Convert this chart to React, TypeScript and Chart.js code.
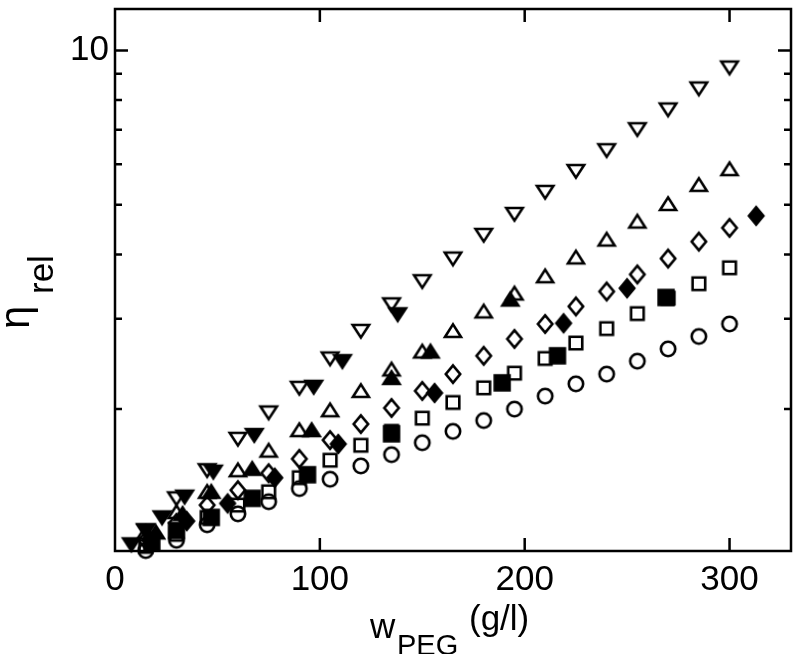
import React, { useEffect, useRef } from 'react';
import { Chart, registerables } from 'chart.js';

Chart.register(...registerables);

const FONT = '"Liberation Sans", Arial, Helvetica, sans-serif';

// ---- data (w_PEG in g/l, eta_rel) ----
const xOpen = [15, 30, 45, 60, 75, 90, 105, 120, 135, 150, 165, 180, 195, 210, 225, 240, 255, 270, 285, 300];
const openCircleY = [1.06, 1.11, 1.19, 1.25, 1.32, 1.40, 1.46, 1.55, 1.63, 1.72, 1.81, 1.90, 2.00, 2.12, 2.24, 2.34, 2.48, 2.62, 2.77, 2.93];
const openSquareY = [1.08, 1.14, 1.23, 1.30, 1.38, 1.47, 1.59, 1.70, 1.81, 1.92, 2.06, 2.20, 2.35, 2.51, 2.69, 2.87, 3.07, 3.29, 3.51, 3.77];
const openDiamondY = [1.11, 1.20, 1.30, 1.39, 1.50, 1.60, 1.74, 1.87, 2.01, 2.17, 2.34, 2.54, 2.74, 2.93, 3.17, 3.39, 3.66, 3.93, 4.24, 4.51];
const openUpY = [1.15, 1.26, 1.38, 1.52, 1.66, 1.82, 1.99, 2.17, 2.39, 2.59, 2.84, 3.10, 3.36, 3.63, 3.95, 4.28, 4.64, 5.02, 5.47, 5.87];
const openDownY = [1.16, 1.34, 1.52, 1.75, 1.97, 2.20, 2.51, 2.84, 3.20, 3.55, 3.93, 4.37, 4.80, 5.30, 5.82, 6.39, 7.02, 7.67, 8.43, 9.26];

const filledDownX = [8, 15, 23, 34, 48, 68, 97, 111, 138];
const filledDownY = [1.09, 1.16, 1.23, 1.35, 1.51, 1.78, 2.21, 2.48, 3.06];
const filledUpX = [20, 33, 47, 67, 96, 135, 154, 193];
const filledUpY = [1.15, 1.25, 1.38, 1.53, 1.82, 2.30, 2.59, 3.27];
const filledDiamondX = [17, 35, 55, 78, 109, 156, 219, 250, 313];
const filledDiamondY = [1.11, 1.21, 1.31, 1.47, 1.71, 2.15, 2.94, 3.44, 4.76];
const filledSquareX = [18, 30, 47, 67, 94, 135, 189, 216, 269];
const filledSquareY = [1.10, 1.16, 1.23, 1.34, 1.49, 1.79, 2.25, 2.54, 3.30];

// ---- axes ----
const xTickValues = [0, 100, 200, 300];
const yMajorTicks = [10];
const yMinorTicks = [2, 3, 4, 5, 6, 7, 8, 9];
const xMin = 0;
const xMax = 330;
const yMin = 1.058;
const yMax = 12.04;

function makeMarker(shape: string, filled: boolean): HTMLCanvasElement {
  const c = document.createElement('canvas');
  c.width = 30;
  c.height = 30;
  const g = c.getContext('2d') as CanvasRenderingContext2D;
  g.translate(15, 15);
  g.lineWidth = 2.6;
  g.strokeStyle = '#000';
  g.fillStyle = '#000';
  g.lineJoin = 'miter';
  g.beginPath();
  if (shape === 'circle') {
    g.arc(0, 0, 7.2, 0, Math.PI * 2);
  } else if (shape === 'square') {
    const s = filled ? 7.4 : 6.3;
    g.rect(-s, -s, 2 * s, 2 * s);
  } else if (shape === 'diamond') {
    g.moveTo(0, -8.6);
    g.lineTo(7.2, 0);
    g.lineTo(0, 8.6);
    g.lineTo(-7.2, 0);
    g.closePath();
  } else if (shape === 'up') {
    g.moveTo(0, -6.6);
    g.lineTo(8, 6.0);
    g.lineTo(-8, 6.0);
    g.closePath();
  } else if (shape === 'down') {
    g.moveTo(0, 6.6);
    g.lineTo(8.2, -6.0);
    g.lineTo(-8.2, -6.0);
    g.closePath();
  }
  if (filled) g.fill();
  g.stroke();
  return c;
}

function pts(xs: number[], ys: number[]) {
  return xs.map((x, i) => ({ x, y: ys[i] }));
}

const frameAndTitles = {
  id: 'frameAndTitles',
  beforeDatasetsDraw(chart: any) {
    const { ctx, chartArea: a, scales } = chart;
    const sx = scales.x;
    const sy = scales.y;
    ctx.save();
    ctx.strokeStyle = '#000';
    ctx.lineWidth = 2.5;
    ctx.lineCap = 'butt';
    ctx.beginPath();
    ctx.rect(a.left, a.top, a.right - a.left, a.bottom - a.top);
    ctx.stroke();
    ctx.beginPath();
    for (const v of xTickValues) {
      const px = sx.getPixelForValue(v);
      if (px <= a.left + 2) continue;
      ctx.moveTo(px, a.bottom);
      ctx.lineTo(px, a.bottom - 13);
      ctx.moveTo(px, a.top);
      ctx.lineTo(px, a.top + 13);
    }
    for (const v of yMajorTicks) {
      const py = sy.getPixelForValue(v);
      ctx.moveTo(a.left, py);
      ctx.lineTo(a.left + 13, py);
      ctx.moveTo(a.right, py);
      ctx.lineTo(a.right - 13, py);
    }
    for (const v of yMinorTicks) {
      const py = sy.getPixelForValue(v);
      ctx.moveTo(a.left, py);
      ctx.lineTo(a.left + 7, py);
      ctx.moveTo(a.right, py);
      ctx.lineTo(a.right - 7, py);
    }
    ctx.stroke();
    ctx.restore();
  },
  afterDraw(chart: any) {
    const { ctx } = chart;
    ctx.save();
    ctx.fillStyle = '#000';
    ctx.textAlign = 'left';
    ctx.textBaseline = 'alphabetic';
    // x title: w_PEG (g/l)
    ctx.font = `35px ${FONT}`;
    ctx.fillText('w', 370, 638);
    ctx.font = `29px ${FONT}`;
    ctx.fillText('PEG', 397, 655);
    ctx.font = `35px ${FONT}`;
    ctx.fillText('(g/l)', 469, 630);
    // y title: eta_rel (rotated)
    ctx.save();
    ctx.translate(29, 329);
    ctx.rotate(-Math.PI / 2);
    ctx.font = `42px ${FONT}`;
    ctx.fillText('\u03B7', 0, 0);
    ctx.restore();
    ctx.save();
    ctx.translate(53, 294);
    ctx.rotate(-Math.PI / 2);
    ctx.font = `35px ${FONT}`;
    ctx.fillText('rel', 0, 0);
    ctx.restore();
    ctx.restore();
  },
};

export default function App() {
  const ref = useRef<HTMLCanvasElement | null>(null);

  useEffect(() => {
    if (!ref.current) return;
    const m = {
      oc: makeMarker('circle', false),
      os: makeMarker('square', false),
      od: makeMarker('diamond', false),
      ou: makeMarker('up', false),
      odn: makeMarker('down', false),
      fs: makeMarker('square', true),
      fd: makeMarker('diamond', true),
      fu: makeMarker('up', true),
      fdn: makeMarker('down', true),
    };
    const ds = (label: string, data: any[], style: HTMLCanvasElement) => ({
      label,
      data,
      pointStyle: style,
      pointRadius: 8,
      pointHoverRadius: 8,
      showLine: false,
      clip: false as any,
      borderColor: '#000',
      backgroundColor: '#000',
    });
    const chart = new Chart(ref.current, {
      type: 'scatter',
      data: {
        datasets: [
          ds('filled down', pts(filledDownX, filledDownY), m.fdn),
          ds('filled up', pts(filledUpX, filledUpY), m.fu),
          ds('filled diamond', pts(filledDiamondX, filledDiamondY), m.fd),
          ds('filled square', pts(filledSquareX, filledSquareY), m.fs),
          ds('open down', pts(xOpen, openDownY), m.odn),
          ds('open up', pts(xOpen, openUpY), m.ou),
          ds('open diamond', pts(xOpen, openDiamondY), m.od),
          ds('open square', pts(xOpen, openSquareY), m.os),
          ds('open circle', pts(xOpen, openCircleY), m.oc),
        ],
      },
      options: {
        responsive: false,
        animation: false,
        devicePixelRatio: 1,
        layout: { padding: { top: 6, right: 8, left: 0, bottom: 0 } },
        plugins: { legend: { display: false }, tooltip: { enabled: false }, title: { display: false } },
        scales: {
          x: {
            type: 'linear',
            min: xMin,
            max: xMax,
            grid: { display: false, drawTicks: false },
            border: { display: false },
            ticks: {
              color: '#000',
              font: { family: FONT, size: 35 },
              padding: 8,
              maxRotation: 0,
              autoSkip: false,
            },
            afterBuildTicks: (s: any) => {
              s.ticks = xTickValues.map((v) => ({ value: v }));
            },
            afterFit: (s: any) => {
              s.height = 103;
              s.paddingLeft = 0;
              s.paddingRight = 0;
            },
          },
          y: {
            type: 'logarithmic',
            min: yMin,
            max: yMax,
            grid: { display: false, drawTicks: false },
            border: { display: false },
            ticks: {
              color: '#000',
              font: { family: FONT, size: 35 },
              padding: 6,
              autoSkip: false,
              callback: (v: any) => String(v),
            },
            afterBuildTicks: (s: any) => {
              s.ticks = yMajorTicks.map((v) => ({ value: v }));
            },
            afterFit: (s: any) => {
              s.width = 115;
              s.paddingTop = 0;
              s.paddingBottom = 0;
            },
          },
        },
      },
      plugins: [frameAndTitles],
    });
    return () => chart.destroy();
  }, []);

  return (
    <div style={{ position: 'absolute', left: 0, top: 0, width: 800, height: 654, background: '#fff' }}>
      <canvas ref={ref} width={800} height={654} style={{ display: 'block' }} />
    </div>
  );
}
